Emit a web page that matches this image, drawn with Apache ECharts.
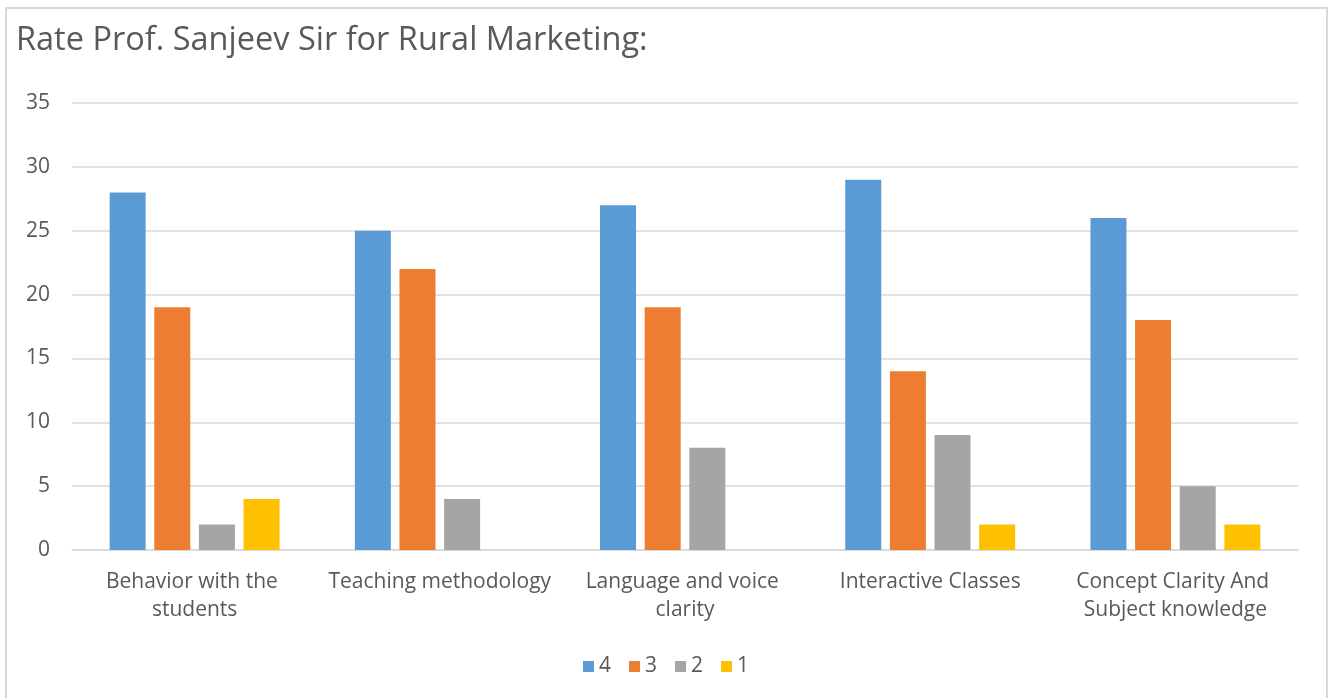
<!DOCTYPE html>
<html>
<head>
<meta charset="utf-8">
<title>Rate Prof. Sanjeev Sir for Rural Marketing</title>
<script src="https://cdn.jsdelivr.net/npm/echarts@6/dist/echarts.min.js"></script>
<style>
  html, body { margin: 0; padding: 0; background: #fff; }
  #chart { width: 1332px; height: 698px; }
</style>
</head>
<body>
<div id="chart"></div>
<script>
// survey categories
var categories = [
  'Behavior with the students',
  'Teaching methodology',
  'Language and voice clarity',
  'Interactive Classes',
  'Concept Clarity And Subject knowledge'
]
// ratings 4 / 3 / 2 / 1
var rating4 = [28, 25, 27, 29, 26]
var rating3 = [19, 22, 19, 14, 18]
var rating2 = [2, 4, 8, 9, 5]
var rating1 = [4, 0, 0, 2, 2]
var seriesNames = ['4', '3', '2', '1']
var colors = ['#5B9BD5', '#ED7D31', '#A5A5A5', '#FFC000']

var textColor = '#595959'
var font = 'Open Sans'

var chart = echarts.init(document.getElementById('chart'))

function bar(name, data, i) {
  return {
    name: name,
    type: 'bar',
    data: data,
    barWidth: 36,
    barGap: '24%',
    itemStyle: { color: colors[i] }
  }
}

chart.setOption({
  animation: false,
  textStyle: { fontFamily: font },
  title: {
    text: 'Rate Prof. Sanjeev Sir for Rural Marketing:',
    left: 11,
    top: 19,
    textStyle: {
      color: textColor,
      fontSize: 32.5,
      fontWeight: 'normal',
      fontFamily: font
    }
  },
  legend: {
    data: seriesNames,
    bottom: 16,
    left: 'center',
    icon: 'rect',
    itemWidth: 11,
    itemHeight: 11,
    itemGap: 18,
    selectedMode: false,
    textStyle: { color: textColor, fontSize: 21, fontFamily: font }
  },
  grid: {
    left: 72,
    right: 34,
    top: 103,
    bottom: 148,
    containLabel: false
  },
  xAxis: {
    type: 'category',
    data: categories,
    axisTick: { show: false },
    axisLine: { lineStyle: { color: '#d9d9d9', width: 1.5 } },
    axisLabel: {
      color: textColor,
      fontSize: 21,
      lineHeight: 28,
      margin: 18,
      interval: 0,
      width: 232,
      overflow: 'break'
    }
  },
  yAxis: {
    type: 'value',
    min: 0,
    max: 35,
    interval: 5,
    axisLine: { show: false },
    axisTick: { show: false },
    splitLine: { lineStyle: { color: '#d9d9d9', width: 1.5 } },
    axisLabel: { color: textColor, fontSize: 21, margin: 22 }
  },
  graphic: [
    {
      type: 'rect',
      shape: { x: 6, y: 8, width: 1321, height: 700 },
      style: { fill: 'none', stroke: '#d9d9d9', lineWidth: 2 },
      silent: true
    }
  ],
  series: [
    bar(seriesNames[0], rating4, 0),
    bar(seriesNames[1], rating3, 1),
    bar(seriesNames[2], rating2, 2),
    bar(seriesNames[3], rating1, 3)
  ]
})
</script>
</body>
</html>
